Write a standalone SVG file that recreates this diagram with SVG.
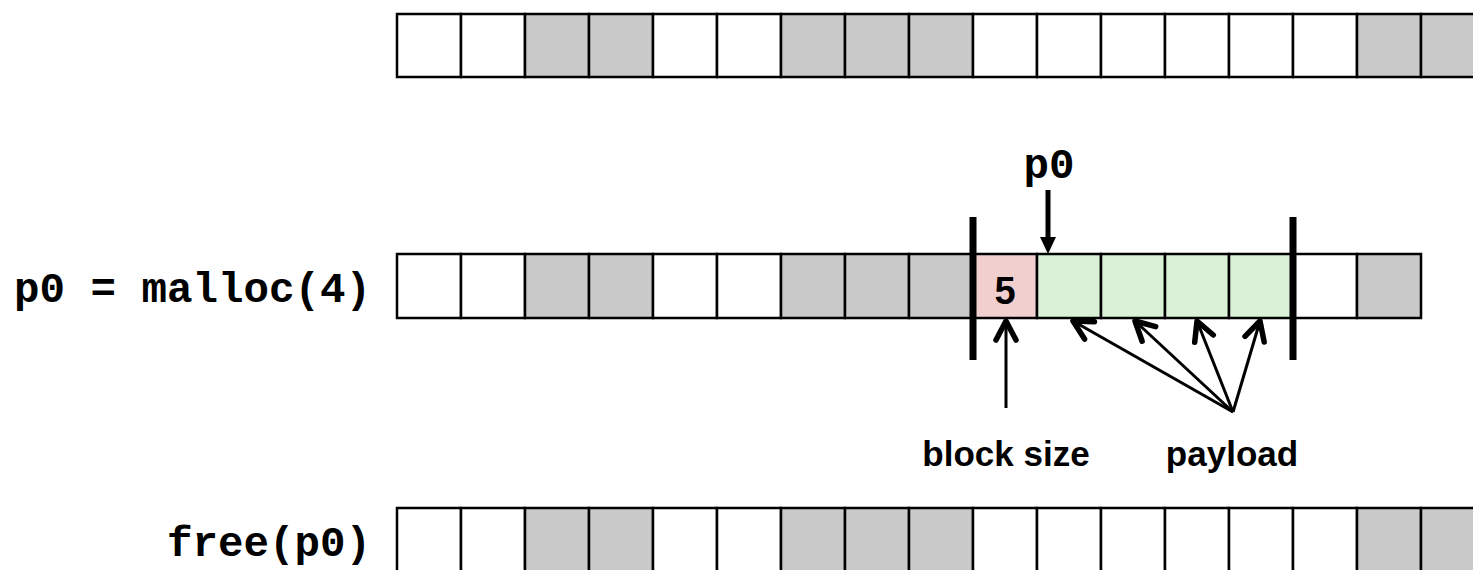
<svg xmlns="http://www.w3.org/2000/svg" width="1473" height="570" viewBox="0 0 1473 570">
<style>
.c{stroke:#000;stroke-width:2.5}
.w{fill:#fff}
.g{fill:#C9C9C9}
.pk{fill:#F2CFCF}
.gr{fill:#DAF1D8}
.mono{font-family:"Liberation Mono","Courier New",monospace;font-weight:bold;font-size:42.5px;fill:#000}
.sans{font-family:"Liberation Sans",Arial,sans-serif;font-weight:bold;font-size:35px;fill:#000}
.big{font-size:38px}
.bar{stroke:#000;stroke-width:7}
.ln{stroke:#000;stroke-width:3;fill:none}
</style>
<defs>
<marker id="chev" markerUnits="userSpaceOnUse" viewBox="-25 -15 30 30" markerWidth="30" markerHeight="30" refX="0" refY="0" orient="auto" overflow="visible">
<path d="M -19 -10 L 0 0 L -19 10" fill="none" stroke="#000" stroke-width="5.5" stroke-linecap="round" stroke-linejoin="round"/>
</marker>
</defs>
<rect width="1473" height="570" fill="#fff"/>
<g id="row1">
<rect class="c w" x="397" y="14" width="64" height="63"/>
<rect class="c w" x="461" y="14" width="64" height="63"/>
<rect class="c g" x="525" y="14" width="64" height="63"/>
<rect class="c g" x="589" y="14" width="64" height="63"/>
<rect class="c w" x="653" y="14" width="64" height="63"/>
<rect class="c w" x="717" y="14" width="64" height="63"/>
<rect class="c g" x="781" y="14" width="64" height="63"/>
<rect class="c g" x="845" y="14" width="64" height="63"/>
<rect class="c g" x="909" y="14" width="64" height="63"/>
<rect class="c w" x="973" y="14" width="64" height="63"/>
<rect class="c w" x="1037" y="14" width="64" height="63"/>
<rect class="c w" x="1101" y="14" width="64" height="63"/>
<rect class="c w" x="1165" y="14" width="64" height="63"/>
<rect class="c w" x="1229" y="14" width="64" height="63"/>
<rect class="c w" x="1293" y="14" width="64" height="63"/>
<rect class="c g" x="1357" y="14" width="64" height="63"/>
<rect class="c g" x="1421" y="14" width="64" height="63"/>
</g>
<g id="row2">
<text class="mono" x="371" y="302" text-anchor="end">p0 = malloc(4)</text>
<rect class="c w" x="397" y="254" width="64" height="64"/>
<rect class="c w" x="461" y="254" width="64" height="64"/>
<rect class="c g" x="525" y="254" width="64" height="64"/>
<rect class="c g" x="589" y="254" width="64" height="64"/>
<rect class="c w" x="653" y="254" width="64" height="64"/>
<rect class="c w" x="717" y="254" width="64" height="64"/>
<rect class="c g" x="781" y="254" width="64" height="64"/>
<rect class="c g" x="845" y="254" width="64" height="64"/>
<rect class="c g" x="909" y="254" width="64" height="64"/>
<rect class="c pk" x="973" y="254" width="64" height="64"/>
<rect class="c gr" x="1037" y="254" width="64" height="64"/>
<rect class="c gr" x="1101" y="254" width="64" height="64"/>
<rect class="c gr" x="1165" y="254" width="64" height="64"/>
<rect class="c gr" x="1229" y="254" width="64" height="64"/>
<rect class="c w" x="1293" y="254" width="64" height="64"/>
<rect class="c g" x="1357" y="254" width="64" height="64"/>
<text class="sans big" x="1005" y="304" text-anchor="middle">5</text>
<line class="bar" x1="973" y1="217" x2="973" y2="360"/>
<line class="bar" x1="1293" y1="217" x2="1293" y2="360"/>
</g>
<g id="row3">
<text class="mono" x="371" y="556" text-anchor="end">free(p0)</text>
<rect class="c w" x="397" y="508" width="64" height="70"/>
<rect class="c w" x="461" y="508" width="64" height="70"/>
<rect class="c g" x="525" y="508" width="64" height="70"/>
<rect class="c g" x="589" y="508" width="64" height="70"/>
<rect class="c w" x="653" y="508" width="64" height="70"/>
<rect class="c w" x="717" y="508" width="64" height="70"/>
<rect class="c g" x="781" y="508" width="64" height="70"/>
<rect class="c g" x="845" y="508" width="64" height="70"/>
<rect class="c g" x="909" y="508" width="64" height="70"/>
<rect class="c w" x="973" y="508" width="64" height="70"/>
<rect class="c w" x="1037" y="508" width="64" height="70"/>
<rect class="c w" x="1101" y="508" width="64" height="70"/>
<rect class="c w" x="1165" y="508" width="64" height="70"/>
<rect class="c w" x="1229" y="508" width="64" height="70"/>
<rect class="c w" x="1293" y="508" width="64" height="70"/>
<rect class="c g" x="1357" y="508" width="64" height="70"/>
<rect class="c g" x="1421" y="508" width="64" height="70"/>
</g>
<g id="p0-label">
<text class="mono" x="1049" y="178" text-anchor="middle">p0</text>
</g>
<g id="block-size-label">
<text class="sans" x="1006" y="466" text-anchor="middle">block size</text>
</g>
<g id="payload-label">
<text class="sans" x="1232" y="466" text-anchor="middle">payload</text>
</g>
<g id="connectors">
<line x1="1048" y1="190" x2="1048" y2="238" stroke="#000" stroke-width="5"/>
<polygon points="1040,237 1056,237 1048,254" fill="#000"/>
<line class="ln" x1="1006" y1="408" x2="1006" y2="321" marker-end="url(#chev)"/>
<line class="ln" x1="1233" y1="412" x2="1073" y2="321" marker-end="url(#chev)"/>
<line class="ln" x1="1233" y1="412" x2="1135" y2="321" marker-end="url(#chev)"/>
<line class="ln" x1="1233" y1="412" x2="1197" y2="321" marker-end="url(#chev)"/>
<line class="ln" x1="1233" y1="412" x2="1260" y2="321" marker-end="url(#chev)"/>
</g>
</svg>
